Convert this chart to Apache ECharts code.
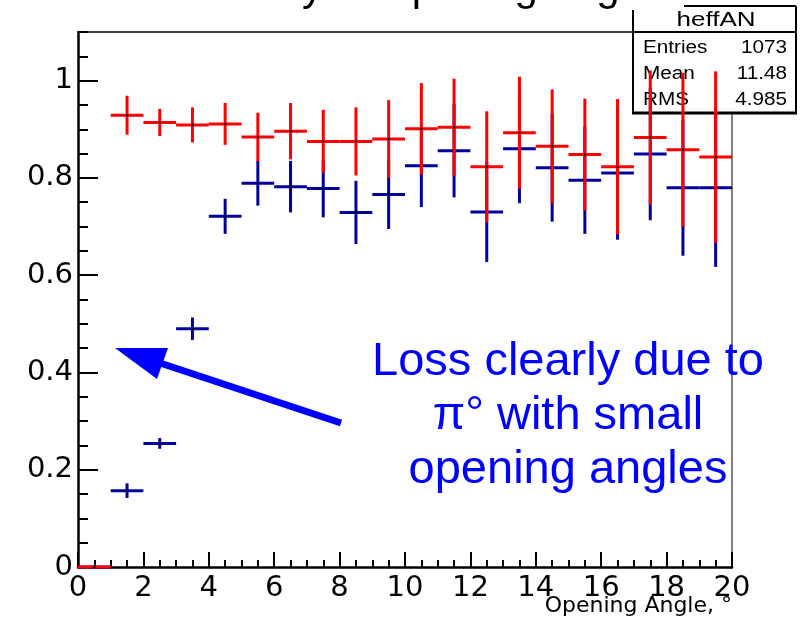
<!DOCTYPE html>
<html>
<head>
<meta charset="utf-8">
<script src="https://cdn.jsdelivr.net/npm/echarts@6/dist/echarts.min.js"></script>
<style>
  html, body { margin: 0; padding: 0; background: #ffffff; }
  #chart { width: 805px; height: 617px; }
</style>
</head>
<body>
<div id="chart"></div>
<script>
// Opening-angle bins (degrees), width 1
const binCenters = [0.5, 1.5, 2.5, 3.5, 4.5, 5.5, 6.5, 7.5, 8.5, 9.5,
                    10.5, 11.5, 12.5, 13.5, 14.5, 15.5, 16.5, 17.5, 18.5, 19.5];
const binWidth = 1;

// Red histogram: efficiency and symmetric error per bin
const redEff = [0, 0.929, 0.914, 0.909, 0.911, 0.884, 0.896, 0.875, 0.875, 0.880,
                0.901, 0.904, 0.823, 0.893, 0.865, 0.848, 0.823, 0.883, 0.858, 0.843];
const redErr = [0, 0.040, 0.028, 0.036, 0.043, 0.050, 0.058, 0.065, 0.070, 0.080,
                0.094, 0.100, 0.114, 0.115, 0.117, 0.115, 0.139, 0.138, 0.158, 0.176];

// Blue histogram: efficiency and symmetric error per bin
const blueEff = [0, 0.157, 0.254, 0.490, 0.721, 0.789, 0.782, 0.778, 0.729, 0.766,
                 0.825, 0.856, 0.730, 0.860, 0.821, 0.795, 0.810, 0.849, 0.780, 0.780];
const blueErr = [0, 0.015, 0.011, 0.023, 0.036, 0.046, 0.053, 0.059, 0.065, 0.071,
                 0.085, 0.096, 0.103, 0.112, 0.111, 0.110, 0.137, 0.136, 0.140, 0.163];

// Axis ranges and tick steps
const xMin = 0, xMax = 20, xMajor = 2, xMinor = 0.5;
const yMin = 0, yMax = 1.1, yMajor = 0.2, yMinor = 0.05;

// Statistics box contents
const statsTitle = 'heffAN';
const statsRows = [['Entries', '1073'], ['Mean', '11.48'], ['RMS', '4.985']];

// Texts
const plotTitle = 'Efficiency vs opening angle';
const xTitle = 'Opening Angle, \u00B0';
const noteLines = ['Loss clearly due to', '\u03C0\u00B0 with small', 'opening angles'];

const RED = '#ff0000';
const BLUE = '#00009c';
const NOTE = '#0000ff';
const TICK_FONT = 'DejaVu Sans';
const TEXT_FONT = 'Liberation Sans, Arial, sans-serif';

const chart = echarts.init(document.getElementById('chart'), null, { renderer: 'canvas' });

// Histogram drawn as error crosses: horizontal bar over the bin, vertical error bar
function crossSeries(name, vals, errs, color) {
  return {
    type: 'custom',
    name: name,
    xAxisIndex: 0,
    yAxisIndex: 0,
    clip: false,
    data: binCenters.map((c, i) => [c, vals[i], errs[i]]),
    encode: { x: 0, y: 1 },
    renderItem: function (params, api) {
      const x = api.value(0), y = api.value(1), e = api.value(2);
      const l = api.coord([x - binWidth / 2, y]);
      const r = api.coord([x + binWidth / 2, y]);
      const c = api.coord([x, y]);
      const style = { stroke: color, lineWidth: 3, lineCap: 'butt' };
      const children = [
        { type: 'line', shape: { x1: l[0], y1: l[1], x2: r[0], y2: r[1] }, style: style }
      ];
      if (e > 0) {
        const t = api.coord([x, y + e]);
        const b = api.coord([x, y - e]);
        children.push({ type: 'line', shape: { x1: t[0], y1: t[1], x2: b[0], y2: b[1] }, style: style });
      }
      children.push({ type: 'rect', shape: { x: c[0] - 1, y: c[1] - 1, width: 2, height: 2 }, style: { fill: '#000' } });
      return { type: 'group', children: children };
    }
  };
}

const hidden = { show: false };

// Statistics box
const sbLeft = 633, sbRight = 796, sbTop = 6, sbHead = 32, sbBottom = 113;
const statsGraphics = [
  { type: 'rect', z: 1, shape: { x: sbLeft, y: sbTop, width: sbRight - sbLeft, height: sbBottom - sbTop },
    style: { fill: '#fff', stroke: null } },
  { type: 'line', z: 1, shape: { x1: 684, y1: sbTop, x2: sbRight, y2: sbTop }, style: { stroke: '#000', lineWidth: 2 } },
  { type: 'line', z: 1, shape: { x1: sbLeft, y1: 10, x2: sbLeft, y2: sbBottom }, style: { stroke: '#000', lineWidth: 2 } },
  { type: 'line', z: 1, shape: { x1: sbRight, y1: sbTop, x2: sbRight, y2: sbBottom }, style: { stroke: '#000', lineWidth: 2 } },
  { type: 'line', z: 1, shape: { x1: sbLeft, y1: sbHead, x2: sbRight, y2: sbHead }, style: { stroke: '#000', lineWidth: 2 } },
  { type: 'line', z: 1, shape: { x1: sbLeft - 1, y1: sbBottom, x2: sbRight + 1, y2: sbBottom }, style: { stroke: '#000', lineWidth: 3 } },
  { type: 'text', z: 1, x: 716, y: 20, scaleX: 1.3,
    style: { text: statsTitle, fill: '#000', font: '20px ' + TEXT_FONT, align: 'center', verticalAlign: 'middle' } }
];
statsRows.forEach((row, i) => {
  const y = 48 + i * 26;
  statsGraphics.push({ type: 'text', z: 1, x: 643, y: y, scaleX: 1.15,
    style: { text: row[0], fill: '#000', font: '18px ' + TEXT_FONT, align: 'left', verticalAlign: 'middle' } });
  statsGraphics.push({ type: 'text', z: 1, x: 787, y: y, scaleX: 1.15,
    style: { text: row[1], fill: '#000', font: '18px ' + TEXT_FONT, align: 'right', verticalAlign: 'middle' } });
});

// Axis title, title and annotation (arrow and note)
const arrowTip = [115, 348], arrowTail = [341, 423];
const noteGraphics = [
  { type: 'text', z: 5, x: 732, y: 606,
    style: { text: xTitle, fill: '#000', font: '22px ' + TICK_FONT, align: 'right', verticalAlign: 'middle' } },
  { type: 'line', z: 10, shape: { x1: arrowTail[0], y1: arrowTail[1], x2: 160, y2: 363 },
    style: { stroke: NOTE, lineWidth: 7 } },
  { type: 'polygon', z: 10, shape: { points: [arrowTip, [168, 348], [157, 379]] },
    style: { fill: NOTE } },
  { type: 'text', z: 10, x: 144, y: -12,
    style: { text: plotTitle, fill: '#000', font: '42px ' + TEXT_FONT, align: 'left', verticalAlign: 'middle' } }
];
noteLines.forEach((s, i) => {
  noteGraphics.push({ type: 'text', z: 10, x: 568, y: 362 + i * 54,
    style: { text: s, fill: NOTE, font: '47px ' + TEXT_FONT, align: 'center', verticalAlign: 'middle' } });
});

const option = {
  animation: false,
  backgroundColor: '#ffffff',
  grid: { left: 78, right: 73, top: 32, bottom: 50, containLabel: false, outerBoundsMode: 'none' },
  xAxis: [
    { // main x axis: labels and major ticks
      type: 'value', position: 'bottom', min: xMin, max: xMax, interval: xMajor,
      axisLine: { onZero: false, lineStyle: { color: '#000', width: 2.5 } },
      axisTick: { show: true, inside: true, length: 15, lineStyle: { color: '#000', width: 2 } },
      axisLabel: { fontFamily: TICK_FONT, fontSize: 29, color: '#000', margin: 7 },
      splitLine: hidden
    },
    { // minor x ticks
      type: 'value', position: 'bottom', min: xMin, max: xMax, interval: xMinor,
      axisLine: { show: false, onZero: false },
      axisTick: { show: true, inside: true, length: 7, lineStyle: { color: '#000', width: 2 } },
      axisLabel: hidden, splitLine: hidden
    },
    { // top frame
      type: 'value', position: 'top', min: xMin, max: xMax,
      axisLine: { show: true, onZero: false, lineStyle: { color: '#000', width: 1.5 } },
      axisTick: hidden, axisLabel: hidden, splitLine: hidden
    }
  ],
  yAxis: [
    { // main y axis: labels and major ticks
      type: 'value', position: 'left', min: yMin, max: yMax, interval: yMajor,
      axisLine: { onZero: false, lineStyle: { color: '#000', width: 2.5 } },
      axisTick: { show: true, inside: true, length: 20, lineStyle: { color: '#000', width: 2 } },
      axisLabel: { fontFamily: TICK_FONT, fontSize: 29, color: '#000', margin: 5, showMaxLabel: false },
      splitLine: hidden
    },
    { // minor y ticks
      type: 'value', position: 'left', min: yMin, max: yMax, interval: yMinor,
      axisLine: { show: false, onZero: false },
      axisTick: { show: true, inside: true, length: 10, lineStyle: { color: '#000', width: 2 } },
      axisLabel: hidden, splitLine: hidden
    },
    { // right frame
      type: 'value', position: 'right', min: yMin, max: yMax,
      axisLine: { show: true, onZero: false, lineStyle: { color: '#555', width: 1.5 } },
      axisTick: hidden, axisLabel: hidden, splitLine: hidden
    }
  ],
  series: [
    crossSeries('blue', blueEff, blueErr, BLUE),
    crossSeries('red', redEff, redErr, RED)
  ],
  graphic: { elements: statsGraphics.concat(noteGraphics) }
};

chart.setOption(option);
</script>
</body>
</html>
